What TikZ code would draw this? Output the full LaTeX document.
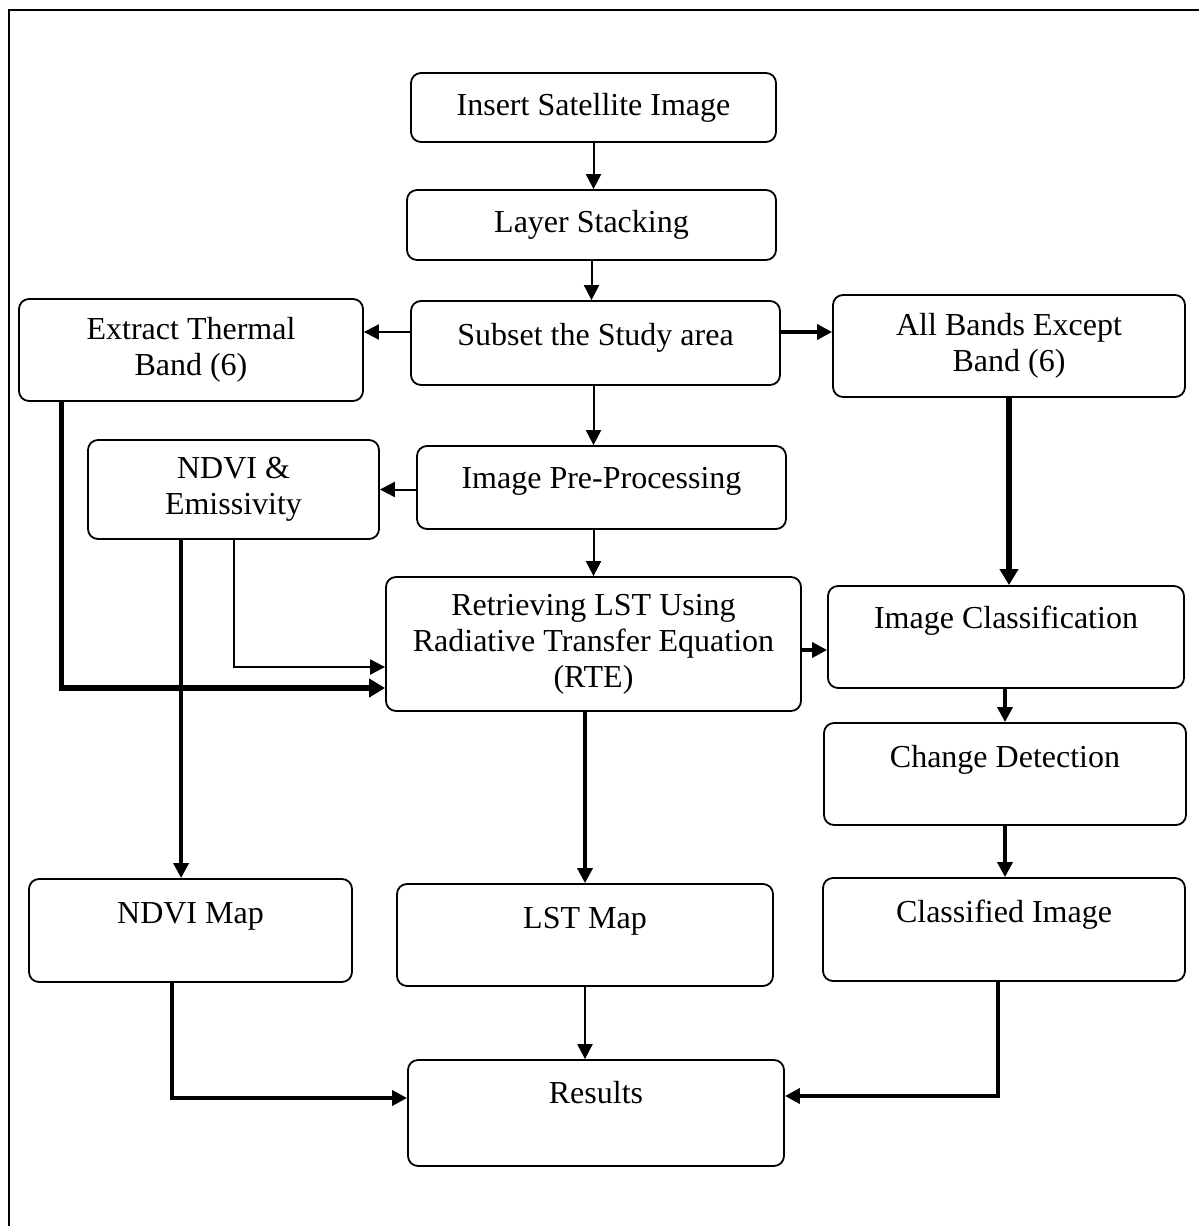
\documentclass[tikz,border=0pt]{standalone}
\usepackage{fontspec}
\setmainfont{Liberation Serif}
\usetikzlibrary{arrows.meta}

\begin{document}
\begin{tikzpicture}[x=0.5pt, y=-0.5pt, >={Triangle[length=7.5pt,width=7.5pt]},
  box/.style={draw, line width=0.9pt, rounded corners=5pt, align=center,
    inner sep=0pt, font=\fontsize{16}{18}\selectfont},
  lnthin/.style={->, line width=1pt},
  lnmid/.style={->, line width=1.75pt},
  lnthick/.style={->, line width=2.6pt, >={Triangle[length=8pt,width=9pt]}}]
\useasboundingbox (0,0) rectangle (1199,1226);
%frame
\draw[line width=1pt] (8.5,1240) -- (8.5,9.5) -- (1210,9.5);

%middle column
\node[box, minimum width=182.5pt, minimum height=34.5pt] (insert) at (593.5,107.5) {Insert Satellite Image};
\node[box, minimum width=184.5pt, minimum height=35pt] (stack) at (591.5,225) {Layer Stacking};
\node[box, minimum width=184.5pt, minimum height=42pt, text depth=8.4pt] (subset) at (595.5,343) {Subset the Study area};
\node[box, minimum width=184.5pt, minimum height=41.5pt, text depth=9.9pt] (preproc) at (601.5,487.5) {Image Pre-Processing};
\node[box, minimum width=207.5pt, minimum height=67pt] (rte) at (593.5,644) {Retrieving LST Using\\Radiative Transfer Equation\\(RTE)};
\node[box, minimum width=188pt, minimum height=51pt, text depth=17.4pt] (lstmap) at (585,935) {LST Map};
\node[box, minimum width=188pt, minimum height=53pt, text depth=20.4pt] (results) at (596,1113) {Results};

%left column
\node[box, minimum width=172pt, minimum height=51pt] (thermal) at (191,350) {Extract Thermal\\Band (6)};
\node[box, minimum width=145.5pt, minimum height=49.5pt] (ndvi) at (233.5,489.5) {NDVI \&\\Emissivity};
\node[box, minimum width=161.5pt, minimum height=51.5pt, text depth=17.9pt] (ndvimap) at (190.5,930.5) {NDVI Map};

%right column
\node[box, minimum width=176pt, minimum height=51pt] (bands) at (1009,346) {All Bands Except\\Band (6)};
\node[box, minimum width=178pt, minimum height=51pt, text depth=19.4pt] (classify) at (1006,637) {Image Classification};
\node[box, minimum width=181pt, minimum height=51pt, text depth=17.4pt] (change) at (1005,774) {Change Detection};
\node[box, minimum width=181pt, minimum height=51.5pt, text depth=17.9pt] (classified) at (1004,929.5) {Classified Image};

%connectors
\draw[lnthin] (insert.south) -- (insert.south |- stack.north);
\draw[lnthin] (stack.south) -- (stack.south |- subset.north);
\draw[lnthin] ([yshift=5.5pt]subset.west) -- ([yshift=5.5pt]subset.west -| thermal.east);
\draw[lnmid] ([yshift=5.5pt]subset.east) -- ([yshift=5.5pt]subset.east -| bands.west);
\draw[lnthin] (subset.south -| rte.north) -- (preproc.north -| rte.north);
\draw[lnthin] (preproc.west |- ndvi.east) -- (ndvi.east);
\draw[lnthin] (preproc.south -| rte.north) -- (rte.north);
\draw[lnthin] (ndvi.south) |- ([yshift=-11.5pt]rte.west);
\draw[lnthick] ([xshift=21.5pt]thermal.south west) |- ([yshift=-22pt]rte.west);
\draw[lnmid] ([xshift=47pt]ndvi.south west) -- ([xshift=47pt]ndvi.south west |- ndvimap.north);
\draw[lnthick] (bands.south) -- (bands.south |- classify.north);
\draw[lnmid] ([yshift=-3pt]rte.east) -- ([yshift=-3pt]rte.east -| classify.west);
\draw[lnmid] (rte.south -| lstmap.north) -- (lstmap.north);
\draw[lnmid] (classify.south -| change.north) -- (change.north);
\draw[lnmid] (change.south) -- (change.south |- classified.north);
\draw[lnmid] ([xshift=72pt]ndvimap.south west) |- ([yshift=7.5pt]results.west);
\draw[lnthin] (lstmap.south) -- (lstmap.south |- results.north);
\draw[lnmid] ([xshift=-3pt]classified.south) |- ([yshift=8.5pt]results.east);
\end{tikzpicture}
\end{document}
